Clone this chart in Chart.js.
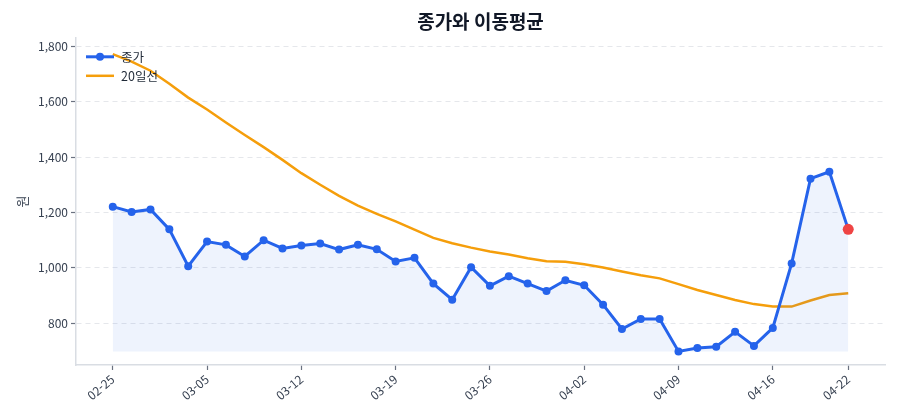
<!DOCTYPE html>
<html lang="ko">
<head>
<meta charset="utf-8">
<title>종가와 이동평균</title>
<script src="https://cdn.jsdelivr.net/npm/chart.js@4.4.1/dist/chart.umd.min.js"></script>
<style>
  html, body { margin: 0; padding: 0; background: #fff; }
  #wrap { width: 900px; height: 420px; }
</style>
</head>
<body>
<div id="wrap"><canvas id="myChart" width="900" height="420"></canvas></div>
<script>
const dates = ['02-25','02-26','02-27','02-28','03-04','03-05','03-06','03-07','03-10','03-11',
               '03-12','03-13','03-14','03-17','03-18','03-19','03-20','03-21','03-24','03-25',
               '03-26','03-27','03-28','03-31','04-01','04-02','04-03','04-04','04-07','04-08',
               '04-09','04-10','04-11','04-14','04-15','04-16','04-17','04-18','04-21','04-22'];

const close = [1221, 1202, 1211, 1139, 1006, 1095, 1083, 1041, 1100, 1070,
               1081, 1088, 1066, 1083, 1067, 1023, 1036, 943, 885, 1002,
               935, 970, 943, 916, 955, 937, 867, 779, 815, 815,
               698, 710, 715, 769, 718, 783, 1016, 1322, 1347, 1139];

const ma20 = [1772, 1745, 1712, 1665, 1615, 1572, 1525, 1480, 1436, 1390,
              1342, 1300, 1260, 1225, 1195, 1168, 1138, 1108, 1089, 1073,
              1059, 1048, 1035, 1024, 1022, 1013, 1001, 987, 973, 962,
              941, 920, 902, 884, 869, 860, 860, 882, 902, 908];

const xTickIdx = [0, 5, 10, 15, 20, 25, 30, 35, 39];
const yTicks = [800, 1000, 1200, 1400, 1600, 1800];

const FONT = "'Noto Sans CJK KR', 'Noto Sans', sans-serif";
const BLUE = '#2563eb';
const ORANGE = '#f59e0b';
const lastIdx = close.length - 1;

// legend drawn inside the plot, top-left, like the original
const innerLegend = {
    id: 'innerLegend',
    afterDatasetsDraw(chart) {
        const {ctx, chartArea} = chart;
        let x = chartArea.left + 10;
        let y = chartArea.top + 19;
        ctx.save();
        chart.data.datasets.forEach(ds => {
            ctx.strokeStyle = ds.borderColor;
            ctx.lineWidth = ds.borderWidth;
            ctx.beginPath();
            ctx.moveTo(x, y);
            ctx.lineTo(x + 28, y);
            ctx.stroke();
            if (ds.pointRadius) {
                ctx.fillStyle = ds.borderColor;
                ctx.beginPath();
                ctx.arc(x + 14, y, 4, 0, Math.PI * 2);
                ctx.fill();
            }
            ctx.fillStyle = '#1f2937';
            ctx.font = '12.5px ' + FONT;
            ctx.textBaseline = 'middle';
            ctx.fillText(ds.label, x + 35, y);
            y += 19;
        });
        ctx.restore();
    }
};

const ctx = document.getElementById('myChart');

new Chart(ctx, {
    type: 'line',
    data: {
        datasets: [{
            label: '종가',
            data: close.map((v, i) => ({x: i, y: v})),
            borderColor: BLUE,
            borderWidth: 3,
            backgroundColor: 'rgba(37, 99, 235, 0.08)',
            fill: {value: Math.min(...close)},
            pointRadius: close.map((v, i) => i === lastIdx ? 5.5 : 4),
            pointBackgroundColor: close.map((v, i) => i === lastIdx ? '#ef4444' : BLUE),
            pointBorderColor: close.map((v, i) => i === lastIdx ? '#ef4444' : BLUE),
            pointBorderWidth: 0,
            tension: 0
        }, {
            label: '20일선',
            data: ma20.map((v, i) => ({x: i, y: v})),
            borderColor: ORANGE,
            borderWidth: 2.5,
            pointRadius: 0,
            fill: false,
            tension: 0
        }]
    },
    options: {
        responsive: false,
        maintainAspectRatio: false,
        animation: false,
        layout: {
            padding: {left: 8, right: 15, top: 0, bottom: 0}
        },
        plugins: {
            legend: {display: false},
            tooltip: {enabled: false},
            title: {
                display: true,
                text: '종가와 이동평균',
                fullSize: false,
                color: '#111827',
                font: {family: FONT, size: 19, weight: 'bold'},
                padding: {top: 10, bottom: 5}
            }
        },
        scales: {
            x: {
                type: 'linear',
                min: -1.95,
                max: 40.95,
                afterBuildTicks: scale => {
                    scale.ticks = xTickIdx.map(v => ({value: v}));
                },
                afterFit: scale => { scale.height = 55; },
                grid: {
                    drawOnChartArea: false,
                    drawTicks: true,
                    tickLength: 5,
                    tickColor: '#6b7280',
                    tickWidth: 1.2
                },
                border: {display: true, color: '#d9dde3', width: 1.5},
                ticks: {
                    autoSkip: false,
                    maxRotation: 40,
                    minRotation: 40,
                    padding: 2,
                    color: '#374151',
                    font: {family: FONT, size: 12},
                    callback: v => dates[v]
                }
            },
            y: {
                min: 649,
                max: 1831,
                afterBuildTicks: scale => {
                    scale.ticks = yTicks.map(v => ({value: v}));
                },
                afterFit: scale => { scale.width = 68; },
                grid: {
                    color: '#e5e7eb',
                    lineWidth: 1,
                    drawTicks: true,
                    tickLength: 5,
                    tickColor: '#6b7280',
                    tickWidth: 1.2,
                    tickBorderDash: []
                },
                border: {display: true, color: '#d9dde3', width: 1.5, dash: [5, 4]},
                title: {
                    display: true,
                    text: '원',
                    color: '#374151',
                    font: {family: FONT, size: 13},
                    padding: {top: 6, bottom: 4}
                },
                ticks: {
                    padding: 3,
                    color: '#374151',
                    font: {family: FONT, size: 12},
                    callback: v => v.toLocaleString('en-US')
                }
            }
        }
    },
    plugins: [innerLegend]
});
</script>
</body>
</html>
